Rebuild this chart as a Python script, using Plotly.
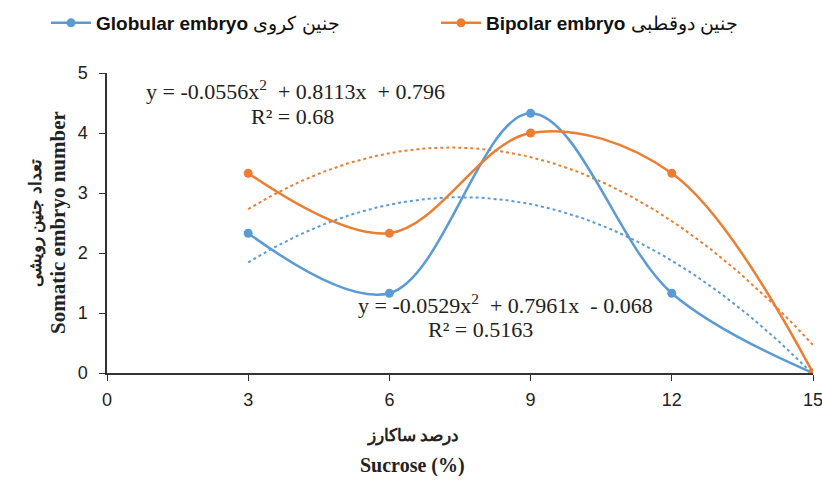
import numpy as np
import plotly.graph_objects as go

sucrose = [3, 6, 9, 12, 15]
globular = [2.33, 1.33, 4.33, 1.33, 0.0]
bipolar = [3.33, 2.33, 4.0, 3.33, 0.0]
x_ticks = [0, 3, 6, 9, 12, 15]
y_ticks = [0, 1, 2, 3, 4, 5]

name_glob = "<b>Globular embryo</b> جنین کروی"
name_bip = "<b>Bipolar embryo</b> جنین دوقطبی"
eq_bip = ["y = -0.0556x<sup>2</sup>  + 0.8113x  + 0.796", "R² = 0.68"]
eq_glob = ["y = -0.0529x<sup>2</sup>  + 0.7961x  - 0.068", "R² = 0.5163"]

BLUE = "#5B9BD5"
ORANGE = "#ED7D31"
TXT = "#222222"
serif = "Liberation Serif, Times New Roman, serif"
narrow = "Liberation Sans Narrow, Liberation Sans, sans-serif"

fig = go.Figure()

xs = np.linspace(min(sucrose), max(sucrose), 200)
for ys, col in [(globular, BLUE), (bipolar, ORANGE)]:
    coef = np.polyfit(sucrose, ys, 2)
    fig.add_trace(go.Scatter(x=xs, y=np.polyval(coef, xs), mode="lines",
                             line=dict(color=col, width=2, dash="dot"),
                             showlegend=False, hoverinfo="skip"))

fig.add_trace(go.Scatter(x=sucrose, y=globular, mode="lines+markers", name=name_glob,
                         line=dict(color=BLUE, width=2.5, shape="spline", smoothing=1),
                         marker=dict(size=9, color=BLUE), legend="legend"))
fig.add_trace(go.Scatter(x=sucrose, y=bipolar, mode="lines+markers", name=name_bip,
                         line=dict(color=ORANGE, width=2.5, shape="spline", smoothing=1),
                         marker=dict(size=9, color=ORANGE), legend="legend2"))

def px2x(p):
    return (p - 107) / 706 * 15

eq_font = dict(family=serif, size=22, color=TXT)
ann = [
    dict(x=px2x(295), y=4.72, xref="x", yref="y", text=eq_bip[0], showarrow=False, font=eq_font),
    dict(x=px2x(292), y=4.27, xref="x", yref="y", text=eq_bip[1], showarrow=False, font=eq_font),
    dict(x=px2x(505), y=1.15, xref="x", yref="y", text=eq_glob[0], showarrow=False, font=eq_font),
    dict(x=px2x(480), y=0.72, xref="x", yref="y", text=eq_glob[1], showarrow=False, font=eq_font),
    # x axis title (two lines)
    dict(x=(412 - 107) / 706, y=-(434 - 373) / 300, xref="paper", yref="paper",
         text="<b>درصد ساکارز</b>", showarrow=False, yanchor="middle",
         font=dict(family="Noto Sans", size=17, color=TXT)),
    dict(x=(412 - 107) / 706, y=-(465 - 373) / 300, xref="paper", yref="paper",
         text="<b>Sucrose (%)</b>", showarrow=False, yanchor="middle",
         font=dict(family=serif, size=20, color=TXT)),
    # y axis title (two lines)
    dict(x=(34 - 107) / 706, y=0.5, xref="paper", yref="paper",
         text="<b>تعداد جنین رویشی</b>", showarrow=False, textangle=-90,
         xanchor="center", yanchor="middle",
         font=dict(family="Noto Sans", size=17, color=TXT)),
    dict(x=(58 - 107) / 706, y=0.5, xref="paper", yref="paper",
         text="<b>Somatic embryo number</b>", showarrow=False, textangle=-90,
         xanchor="center", yanchor="middle",
         font=dict(family=serif, size=21, color=TXT)),
]

leg_common = dict(orientation="h", yanchor="middle", xanchor="left",
                  y=1 + (73 - 23) / 300,
                  font=dict(family=narrow, size=19, color="#111"),
                  itemwidth=40, bgcolor="rgba(0,0,0,0)")

fig.update_layout(
    width=822, height=484,
    margin=dict(l=107, r=9, t=73, b=111, autoexpand=False),
    paper_bgcolor="white", plot_bgcolor="white",
    annotations=ann,
    showlegend=True,
    legend=dict(x=(46 - 107) / 706, **leg_common),
    legend2=dict(x=(436 - 107) / 706, **leg_common),
    xaxis=dict(range=[0, 15], tickvals=x_ticks, showgrid=False, zeroline=False,
               showline=True, linecolor="#333", linewidth=1.5, ticks="outside",
               ticklen=6, tickcolor="#333", ticklabelstandoff=4,
               ticklabeloverflow="allow",
               tickfont=dict(family=narrow, size=18, color=TXT)),
    yaxis=dict(range=[0, 5], tickvals=y_ticks, showgrid=False, zeroline=False,
               showline=True, linecolor="#333", linewidth=1.5, ticks="outside",
               ticklen=6, tickcolor="#333", ticklabelstandoff=8,
               tickfont=dict(family=narrow, size=18, color=TXT)),
)

fig.write_html("out.html")
